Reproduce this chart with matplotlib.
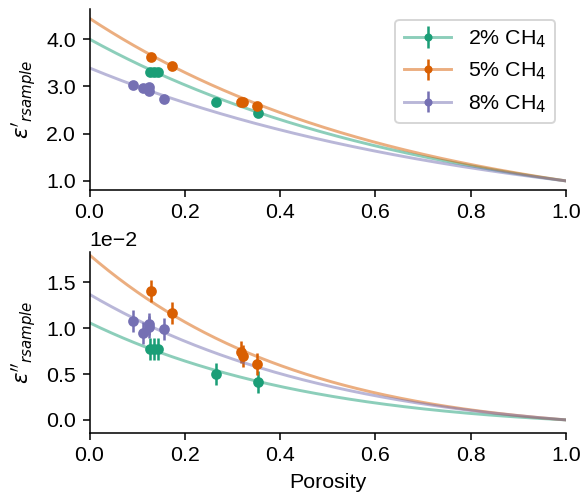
import numpy as np
import matplotlib
matplotlib.use("Agg")
import matplotlib.pyplot as plt
from matplotlib.ticker import FormatStrFormatter

plt.rcParams["font.family"] = ["Liberation Sans", "DejaVu Sans"]
plt.rcParams["font.size"] = 11

# data points (porosity, eps', eps'' in units of 1e-2)
labels = ["2% CH$_4$", "5% CH$_4$", "8% CH$_4$"]
colors = ["#1b9e77", "#d95f02", "#7570b3"]

phi_2 = [0.126, 0.135, 0.144, 0.266, 0.354]
re_2 = [3.31, 3.31, 3.31, 2.68, 2.43]
im_2 = [0.77, 0.77, 0.77, 0.505, 0.41]

phi_5 = [0.129, 0.173, 0.318, 0.322, 0.351]
re_5 = [3.62, 3.44, 2.68, 2.66, 2.58]
im_5 = [1.41, 1.17, 0.74, 0.70, 0.61]

phi_8 = [0.091, 0.112, 0.124, 0.125, 0.157]
re_8 = [3.02, 2.96, 2.99, 2.91, 2.74]
im_8 = [1.08, 0.95, 1.05, 1.01, 0.99]

# error bars
re_err = 0.04
im_err = 0.12

# fitted solid permittivity (complex), eps_mix = eps_s^(1-phi)
eps_solid = [4.00 + 1.06e-2j, 4.44 + 1.80e-2j, 3.39 + 1.37e-2j]

porosity = [phi_2, phi_5, phi_8]
eps_re = [re_2, re_5, re_8]
eps_im = [im_2, im_5, im_8]

fig, (ax1, ax2) = plt.subplots(2, 1, figsize=(585 / 140, 492 / 140), dpi=140)
fig.subplots_adjust(left=0.153, right=0.9675, top=0.981, bottom=0.1205, hspace=0.345)

x = np.linspace(0, 1, 300)
handles = []
for i in range(3):
    model = eps_solid[i] ** (1 - x)
    line, = ax1.plot(x, model.real, color=colors[i], alpha=0.5, lw=1.5)
    ax2.plot(x, model.imag, color=colors[i], alpha=0.5, lw=1.5)
    eb = ax1.errorbar(porosity[i], eps_re[i], yerr=re_err, fmt="o", ms=4.5,
                      color=colors[i], elinewidth=1.3)
    ax2.errorbar(porosity[i], np.array(eps_im[i]) * 1e-2, yerr=im_err * 1e-2,
                 fmt="o", ms=4.5, color=colors[i], elinewidth=1.3)
    handles.append((line, eb))

ax1.legend(handles, labels, loc="upper right", handlelength=2.2, markerscale=0.7)

ax1.set_xlim(0, 1)
ax1.set_ylim(0.81, 4.63)
ax1.set_yticks([1, 2, 3, 4])
ax1.yaxis.set_major_formatter(FormatStrFormatter("%.1f"))
ax1.set_ylabel(r"$\varepsilon'_{rsample}$")

ax2.set_xlim(0, 1)
ax2.set_ylim(-0.14e-2, 1.83e-2)
ax2.ticklabel_format(axis="y", style="sci", scilimits=(0, 0))
ax2.set_ylabel(r"$\varepsilon''_{rsample}$")
ax2.set_xlabel("Porosity")

for ax in (ax1, ax2):
    ax.spines["top"].set_visible(False)
    ax.spines["right"].set_visible(False)

plt.savefig("out.png", dpi=140)
